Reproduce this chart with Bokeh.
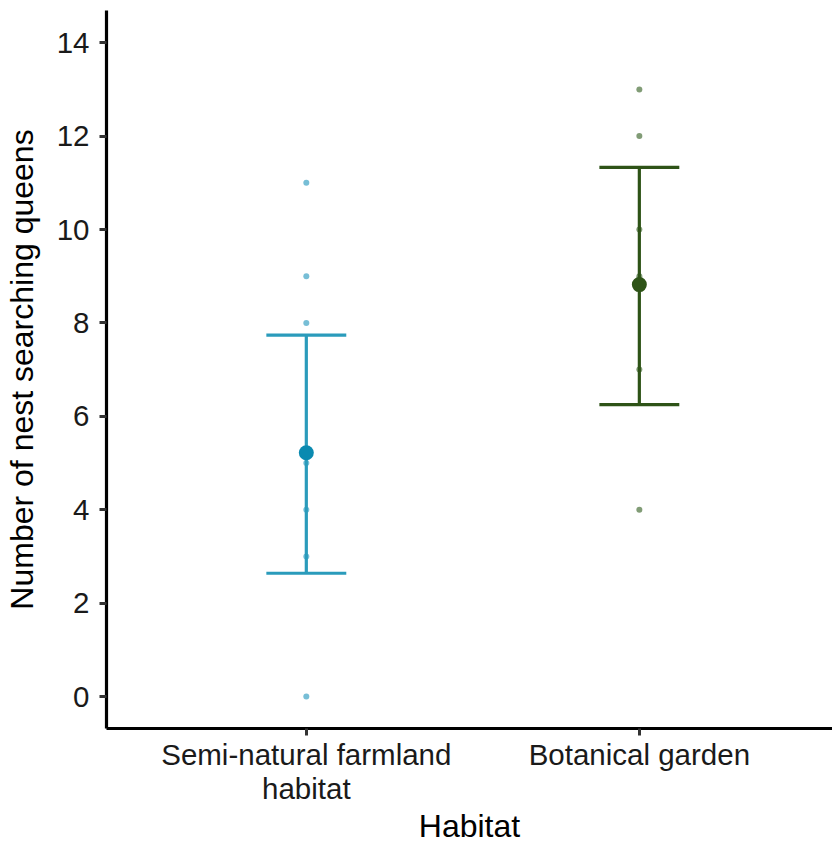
from bokeh.plotting import figure
from bokeh.models import FixedTicker, Range1d
from bokeh.embed import file_html
from bokeh.resources import INLINE

categories = ["Semi-natural farmland\nhabitat", "Botanical garden"]
cat_pos = [1, 2]
points_semi = [0, 3, 4, 5, 8, 9, 11]
points_bot = [4, 7, 9, 10, 12, 13]
means = [5.22, 8.82]
lower = [2.64, 6.25]
upper = [7.74, 11.33]
line_colors = ["#2a9bbb", "#2e5317"]
mean_colors = ["#0a8ab0", "#2e5317"]
point_colors = ["#5fb3cf", "#6b8b5e"]

p = figure(width=832, height=847, output_backend="svg", toolbar_location=None,
           x_range=Range1d(0.4, 2.58), y_range=Range1d(-0.685, 14.69),
           min_border_left=106, min_border_top=10, min_border_right=0, min_border_bottom=119)
p.background_fill_color = "white"
p.border_fill_color = "white"
p.outline_line_color = None
p.xgrid.visible = False
p.ygrid.visible = False

for pos, pts, col in zip(cat_pos, [points_semi, points_bot], point_colors):
    p.scatter(x=[pos] * len(pts), y=pts, size=6, color=col, alpha=0.85, line_color=None)

cap = 0.12
for i in range(2):
    p.segment(x0=[cat_pos[i]], y0=[lower[i]], x1=[cat_pos[i]], y1=[upper[i]],
              line_color=line_colors[i], line_width=3.2)
    p.segment(x0=[cat_pos[i] - cap, cat_pos[i] - cap], y0=[lower[i], upper[i]],
              x1=[cat_pos[i] + cap, cat_pos[i] + cap], y1=[lower[i], upper[i]],
              line_color=line_colors[i], line_width=3.2)
    p.scatter(x=[cat_pos[i]], y=[means[i]], size=15, color=mean_colors[i], line_color=None)

p.xaxis.ticker = FixedTicker(ticks=cat_pos)
p.xaxis.major_label_overrides = {1: categories[0], 2: categories[1]}
p.yaxis.ticker = FixedTicker(ticks=[0, 2, 4, 6, 8, 10, 12, 14])
p.xaxis.axis_label = "Habitat"
p.yaxis.axis_label = "Number of nest searching queens"

for ax in [p.xaxis, p.yaxis]:
    ax.axis_line_width = 3.2
    ax.axis_line_color = "black"
    ax.major_tick_line_color = "#333333"
    ax.major_tick_line_width = 3
    ax.major_tick_out = 7
    ax.major_tick_in = 0
    ax.minor_tick_line_color = None
    ax.major_label_text_font = "Liberation Sans"
    ax.major_label_text_font_size = "29.5px"
    ax.major_label_text_color = "#1a1a1a"
    ax.major_label_text_line_height = 1.05
    ax.axis_label_text_font = "Liberation Sans"
    ax.axis_label_text_font_size = "32px"
    ax.axis_label_text_font_style = "normal"
    ax.axis_label_text_color = "black"
    ax.axis_label_text_line_height = 0.85

p.xaxis.major_label_standoff = 2
p.yaxis.major_label_standoff = 10
p.xaxis.axis_label_standoff = 0
p.yaxis.axis_label_standoff = 14

open("out.html", "w").write(file_html(p, INLINE))
